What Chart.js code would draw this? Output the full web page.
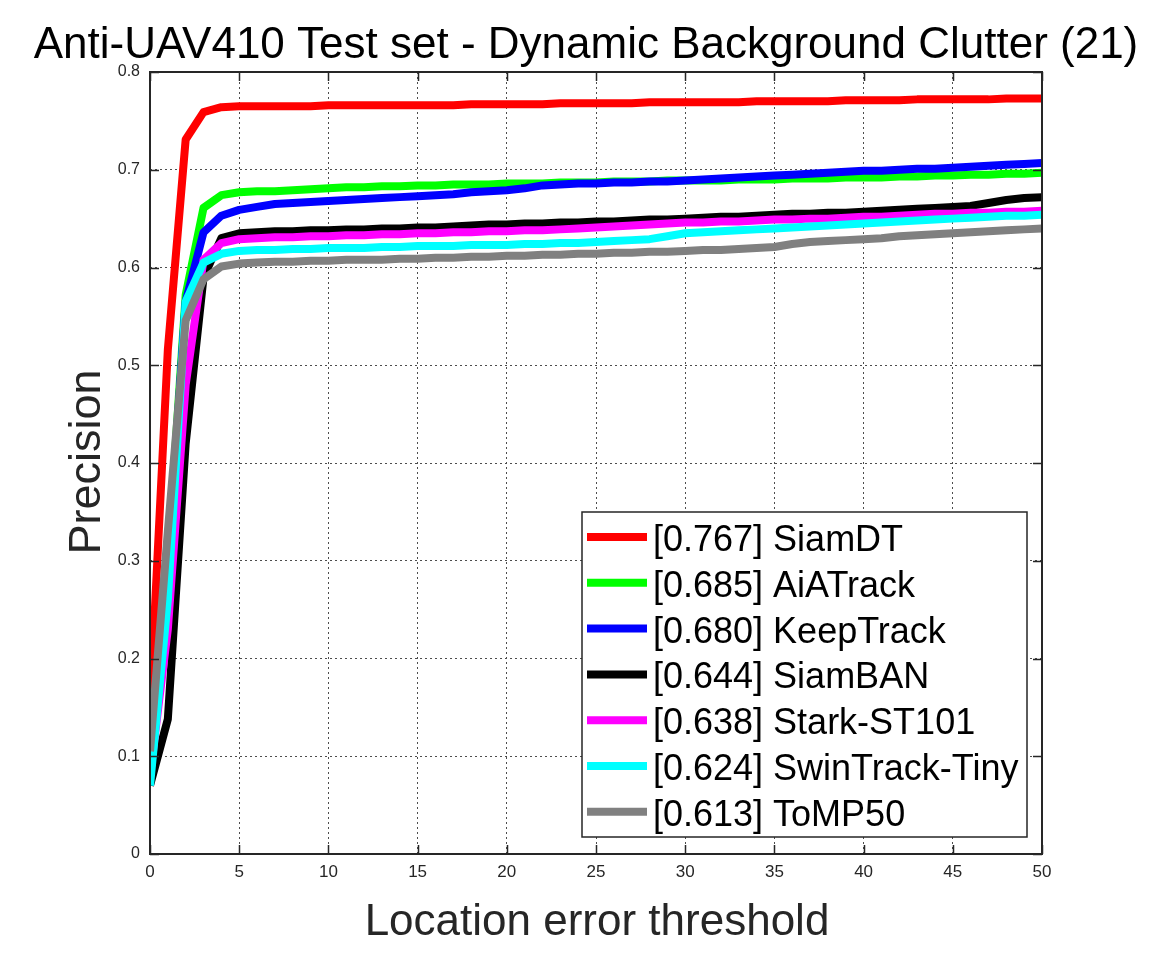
<!DOCTYPE html>
<html>
<head>
<meta charset="utf-8">
<script src="https://cdn.jsdelivr.net/npm/chart.js@4.4.1/dist/chart.umd.min.js"></script>
<style>
  html, body { margin: 0; padding: 0; background: #fff; }
  #wrap { width: 1152px; height: 960px; }
</style>
</head>
<body>
<div id="wrap"><canvas id="chart" width="1152" height="960"></canvas></div>
<script>
(() => {
  "use strict";

  const TITLE = "Anti-UAV410 Test set - Dynamic Background Clutter (21)";
  const X_TITLE = "Location error threshold";
  const Y_TITLE = "Precision";

  const thresholds = [0, 1, 2, 3, 4, 5, 6, 7, 8, 9, 10, 11, 12, 13, 14, 15, 16, 17, 18, 19, 20,
    21, 22, 23, 24, 25, 26, 27, 28, 29, 30, 31, 32, 33, 34, 35, 36, 37, 38, 39, 40,
    41, 42, 43, 44, 45, 46, 47, 48, 49, 50];

  const xTicks = [0, 5, 10, 15, 20, 25, 30, 35, 40, 45, 50];
  const yTicks = [0, 0.1, 0.2, 0.3, 0.4, 0.5, 0.6, 0.7, 0.8];

  const names = ["SiamDT", "AiATrack", "KeepTrack", "SiamBAN", "Stark-ST101", "SwinTrack-Tiny", "ToMP50"];
  const scores = ["0.767", "0.685", "0.680", "0.644", "0.638", "0.624", "0.613"];
  const colors = ["#ff0000", "#00ff00", "#0000ff", "#000000", "#ff00ff", "#00ffff", "#808080"];

  const siamDT = [0.150, 0.516, 0.731, 0.759, 0.764, 0.765, 0.765, 0.765, 0.765, 0.765, 0.766,
    0.766, 0.766, 0.766, 0.766, 0.766, 0.766, 0.766, 0.767, 0.767, 0.767,
    0.767, 0.767, 0.768, 0.768, 0.768, 0.768, 0.768, 0.769, 0.769, 0.769,
    0.769, 0.769, 0.769, 0.770, 0.770, 0.770, 0.770, 0.770, 0.771, 0.771,
    0.771, 0.771, 0.772, 0.772, 0.772, 0.772, 0.772, 0.773, 0.773, 0.773];

  const aiaTrack = [0.075, 0.300, 0.572, 0.661, 0.674, 0.677, 0.678, 0.678, 0.679, 0.680, 0.681,
    0.682, 0.682, 0.683, 0.683, 0.684, 0.684, 0.685, 0.685, 0.685, 0.686,
    0.686, 0.686, 0.687, 0.687, 0.687, 0.688, 0.688, 0.688, 0.689, 0.689,
    0.689, 0.689, 0.690, 0.690, 0.690, 0.691, 0.691, 0.691, 0.692, 0.692,
    0.692, 0.693, 0.693, 0.694, 0.694, 0.695, 0.695, 0.696, 0.696, 0.697];

  const keepTrack = [0.070, 0.290, 0.565, 0.636, 0.653, 0.659, 0.662, 0.665, 0.666, 0.667, 0.668,
    0.669, 0.670, 0.671, 0.672, 0.673, 0.674, 0.675, 0.677, 0.678, 0.679,
    0.681, 0.684, 0.685, 0.686, 0.686, 0.687, 0.687, 0.688, 0.688, 0.689,
    0.690, 0.691, 0.692, 0.693, 0.694, 0.695, 0.696, 0.697, 0.698, 0.699,
    0.699, 0.700, 0.701, 0.701, 0.702, 0.703, 0.704, 0.705, 0.706, 0.707];

  const siamBAN = [0.070, 0.138, 0.420, 0.590, 0.630, 0.635, 0.636, 0.637, 0.637, 0.638, 0.638,
    0.639, 0.639, 0.640, 0.640, 0.641, 0.641, 0.642, 0.643, 0.644, 0.644,
    0.645, 0.645, 0.646, 0.646, 0.647, 0.647, 0.648, 0.649, 0.649, 0.650,
    0.651, 0.652, 0.652, 0.653, 0.654, 0.655, 0.655, 0.656, 0.656, 0.657,
    0.658, 0.659, 0.660, 0.661, 0.662, 0.663, 0.666, 0.669, 0.671, 0.672];

  const starkST101 = [0.080, 0.230, 0.480, 0.608, 0.625, 0.629, 0.630, 0.631, 0.631, 0.632, 0.632,
    0.633, 0.633, 0.634, 0.634, 0.635, 0.635, 0.636, 0.636, 0.637, 0.637,
    0.638, 0.638, 0.639, 0.640, 0.641, 0.642, 0.643, 0.644, 0.645, 0.646,
    0.646, 0.647, 0.647, 0.648, 0.649, 0.649, 0.650, 0.650, 0.651, 0.652,
    0.652, 0.653, 0.654, 0.655, 0.655, 0.656, 0.656, 0.657, 0.657, 0.658];

  const swinTrackTiny = [0.070, 0.260, 0.565, 0.605, 0.614, 0.617, 0.618, 0.618, 0.619, 0.619, 0.620,
    0.620, 0.620, 0.621, 0.621, 0.622, 0.622, 0.622, 0.623, 0.623, 0.623,
    0.624, 0.624, 0.625, 0.625, 0.626, 0.627, 0.628, 0.629, 0.632, 0.635,
    0.636, 0.637, 0.638, 0.639, 0.640, 0.641, 0.642, 0.643, 0.644, 0.645,
    0.646, 0.647, 0.648, 0.649, 0.650, 0.651, 0.652, 0.653, 0.653, 0.654];

  const toMP50 = [0.105, 0.330, 0.546, 0.588, 0.601, 0.604, 0.605, 0.606, 0.606, 0.607, 0.607,
    0.608, 0.608, 0.608, 0.609, 0.609, 0.610, 0.610, 0.611, 0.611, 0.612,
    0.612, 0.613, 0.613, 0.614, 0.614, 0.615, 0.615, 0.616, 0.616, 0.617,
    0.618, 0.618, 0.619, 0.620, 0.621, 0.624, 0.626, 0.627, 0.628, 0.629,
    0.630, 0.632, 0.633, 0.634, 0.635, 0.636, 0.637, 0.638, 0.639, 0.640];

  const series = [siamDT, aiaTrack, keepTrack, siamBAN, starkST101, swinTrackTiny, toMP50];

  const FONT = "'Liberation Sans', Arial, Helvetica, sans-serif";
  const AXIS_COLOR = "#262626";

  // chart area in the reference: x 150..1042, y 72..854
  const AREA = { left: 150, right: 1042, top: 72, bottom: 854 };

  const datasets = series.map((values, i) => ({
    label: `[${scores[i]}] ${names[i]}`,
    data: values.map((v, k) => ({ x: thresholds[k], y: v })),
    borderColor: colors[i],
    backgroundColor: colors[i],
    borderWidth: 8,
    pointRadius: 0,
    tension: 0,
    borderJoinStyle: "round",
    order: series.length - i   // later curves drawn on top, like MATLAB
  }));

  const frame = {
    id: "frame",
    afterDraw(chart) {
      const { ctx, chartArea: a, scales } = chart;
      ctx.save();

      // axes box
      ctx.strokeStyle = AXIS_COLOR;
      ctx.lineWidth = 2;
      ctx.setLineDash([]);
      ctx.strokeRect(a.left, a.top, a.right - a.left, a.bottom - a.top);

      // inward tick marks on all four sides
      const tl = 9;
      ctx.lineWidth = 1.5;
      ctx.beginPath();
      xTicks.forEach(t => {
        const px = Math.round(scales.x.getPixelForValue(t)) + 0.5;
        ctx.moveTo(px, a.bottom); ctx.lineTo(px, a.bottom - tl);
        ctx.moveTo(px, a.top); ctx.lineTo(px, a.top + tl);
      });
      yTicks.forEach(t => {
        const py = Math.round(scales.y.getPixelForValue(t)) + 0.5;
        ctx.moveTo(a.left, py); ctx.lineTo(a.left + tl, py);
        ctx.moveTo(a.right, py); ctx.lineTo(a.right - tl, py);
      });
      ctx.stroke();

      // title and axis titles
      ctx.fillStyle = "#000";
      ctx.textAlign = "center";
      ctx.textBaseline = "alphabetic";
      ctx.font = `44px ${FONT}`;
      ctx.fillText(TITLE, 586, 58);

      ctx.fillStyle = "#262626";
      ctx.font = `44px ${FONT}`;
      ctx.fillText(X_TITLE, 597, 935);

      ctx.save();
      ctx.translate(100, 462);
      ctx.rotate(-Math.PI / 2);
      ctx.font = `45px ${FONT}`;
      ctx.fillText(Y_TITLE, 0, 0);
      ctx.restore();

      // legend box
      const box = { left: 582, top: 512, right: 1027, bottom: 837 };
      ctx.fillStyle = "#fff";
      ctx.fillRect(box.left, box.top, box.right - box.left, box.bottom - box.top);
      ctx.strokeStyle = AXIS_COLOR;
      ctx.lineWidth = 1.5;
      ctx.strokeRect(box.left, box.top, box.right - box.left, box.bottom - box.top);

      ctx.font = `36px ${FONT}`;
      ctx.textAlign = "left";
      ctx.textBaseline = "middle";
      chart.data.datasets.forEach((ds, i) => {
        const y = 537 + i * 45.8;
        ctx.strokeStyle = ds.borderColor;
        ctx.lineWidth = 8;
        ctx.beginPath();
        ctx.moveTo(587, y);
        ctx.lineTo(647, y);
        ctx.stroke();
        ctx.fillStyle = "#000";
        ctx.fillText(ds.label, 653, y + 4);
      });

      ctx.restore();
    }
  };

  new Chart(document.getElementById("chart"), {
    type: "line",
    data: { datasets },
    options: {
      responsive: false,
      animation: false,
      devicePixelRatio: 1,
      layout: {
        padding: { left: 0, right: 1152 - AREA.right, top: AREA.top, bottom: 0 }
      },
      plugins: {
        legend: { display: false },
        title: { display: false },
        tooltip: { enabled: false }
      },
      scales: {
        x: {
          type: "linear",
          min: 0,
          max: 50,
          afterFit(scale) { scale.height = 960 - AREA.bottom; },
          afterBuildTicks(scale) { scale.ticks = xTicks.map(v => ({ value: v })); },
          grid: { color: "#4d4d4d", lineWidth: 1, drawTicks: false },
          border: { display: false, dash: [2, 3] },
          ticks: {
            color: "#262626",
            font: { family: FONT, size: 17 },
            padding: 8,
            maxRotation: 0,
            callback: v => String(v)
          }
        },
        y: {
          type: "linear",
          min: 0,
          max: 0.8,
          afterFit(scale) { scale.width = AREA.left; },
          afterBuildTicks(scale) { scale.ticks = yTicks.map(v => ({ value: v })); },
          grid: { color: "#4d4d4d", lineWidth: 1, drawTicks: false },
          border: { display: false, dash: [2, 3] },
          ticks: {
            color: "#262626",
            font: { family: FONT, size: 16 },
            padding: 10,
            callback: v => String(Math.round(v * 10) / 10)
          }
        }
      }
    },
    plugins: [frame]
  });
})();
</script>
</body>
</html>
